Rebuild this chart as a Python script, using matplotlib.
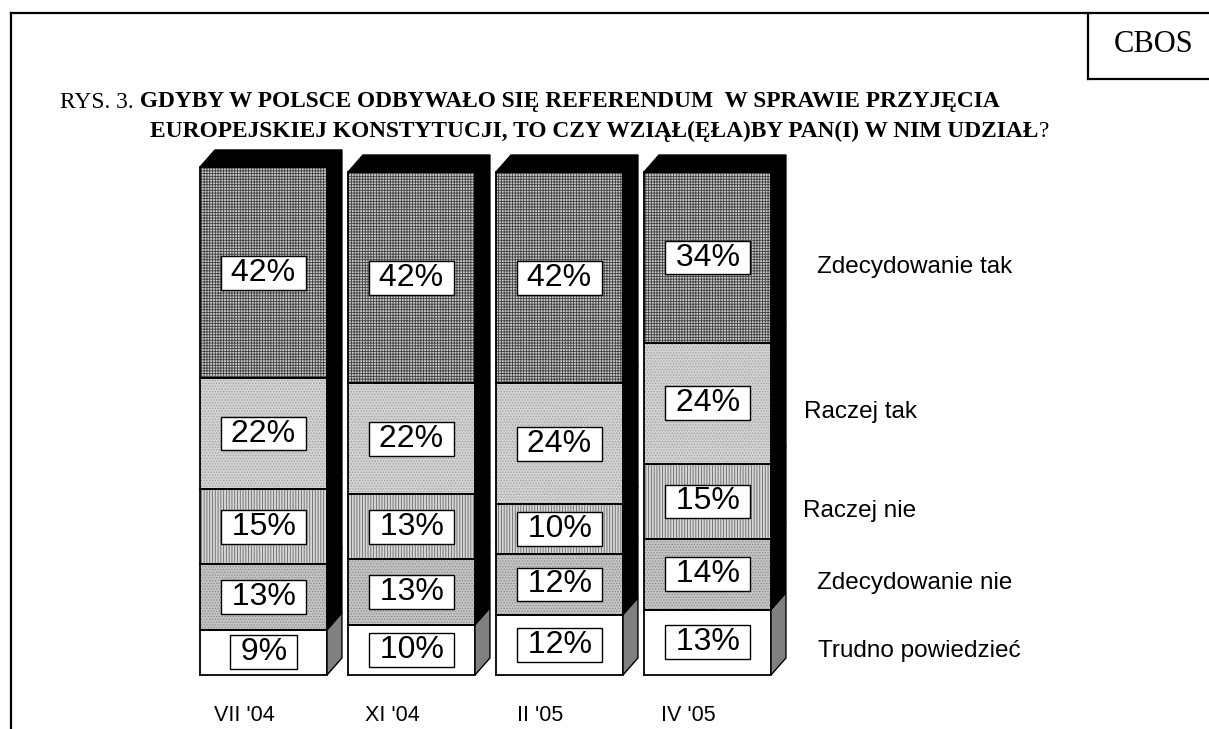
import numpy as np
import matplotlib
matplotlib.use("Agg")
import matplotlib.pyplot as plt
from matplotlib.patches import Polygon
from matplotlib.lines import Line2D

# data
periods = ["VII '04", "XI '04", "II '05", "IV '05"]
answers = ["Zdecydowanie tak", "Raczej tak", "Raczej nie", "Zdecydowanie nie", "Trudno powiedzieć"]
zdecydowanie_tak = [42, 42, 42, 34]
raczej_tak = [22, 22, 24, 24]
raczej_nie = [15, 13, 10, 15]
zdecydowanie_nie = [13, 13, 12, 14]
trudno_powiedziec = [9, 10, 12, 13]

# stacked from the bottom up
stack = [trudno_powiedziec, zdecydowanie_nie, raczej_nie, raczej_tak, zdecydowanie_tak]
stack_names = answers[::-1]

# looks: face colour, hatch, hatch colour
styles = {
    "Zdecydowanie tak": ("#c8c8c8", "++++++", "#404040"),
    "Raczej tak": ("#d2d2d2", "......", "#a0a0a0"),
    "Raczej nie": ("#d6d6d6", "||||||", "#686868"),
    "Zdecydowanie nie": ("#c4c4c4", "......", "#8a8a8a"),
    "Trudno powiedzieć": ("white", "", "white"),
}

plt.rcParams["hatch.linewidth"] = 0.6

W, H = 1209, 729
fig = plt.figure(figsize=(W / 100, H / 100), dpi=100)
ax = fig.add_axes([189.5 / W, 54 / H, 592 / W, 503 / H])
ax.set_xlim(-0.5, 3.5)
ax.set_ylim(0, 100)
ax.axis("off")

x = np.arange(len(periods))
width = 0.858
dx, dy = 0.101, 3.38

bottom = np.zeros(len(periods))
for name, vals in zip(stack_names, stack):
    vals = np.array(vals, dtype=float)
    fc, hatch, hc = styles[name]
    ax.bar(x, vals, width, bottom=bottom, color=fc, hatch=hatch,
           edgecolor=hc, linewidth=0, zorder=2, clip_on=False)
    ax.bar(x, vals, width, bottom=bottom, fill=False,
           edgecolor="black", linewidth=1.3, zorder=3, clip_on=False)
    # side faces
    side = "#808080" if name == "Trudno powiedzieć" else "black"
    for xi, b, v in zip(x, bottom, vals):
        xr = xi + width / 2
        ax.add_patch(Polygon([(xr, b), (xr + dx, b + dy), (xr + dx, b + v + dy), (xr, b + v)],
                             closed=True, facecolor=side, edgecolor="black",
                             linewidth=1.0, zorder=3, clip_on=False))
    # value labels
    for xi, b, v in zip(x, bottom, vals):
        ax.text(xi, b + v / 2, " %d%% " % v, ha="center", va="center",
                fontsize=23, family="Liberation Sans", zorder=5,
                bbox=dict(boxstyle="square,pad=0.06", fc="white", ec="black", lw=1.0))
    bottom = bottom + vals

# top faces
for xi, top in zip(x, bottom):
    xl, xr = xi - width / 2, xi + width / 2
    ax.add_patch(Polygon([(xl, top), (xl + dx, top + dy), (xr + dx, top + dy), (xr, top)],
                         closed=True, facecolor="black", edgecolor="black",
                         linewidth=1.0, zorder=3, clip_on=False))

# answer labels on the right, next to the last column
last_col = np.array([s[-1] for s in stack], dtype=float)
centers = np.cumsum(last_col) - last_col / 2
right_x = {"Zdecydowanie tak": 3.74, "Raczej tak": 3.65, "Raczej nie": 3.645,
           "Zdecydowanie nie": 3.74, "Trudno powiedzieć": 3.745}
for name, c in zip(stack_names, centers):
    ax.text(right_x[name], c - 1.8, name, ha="left", va="center",
            fontsize=17.5, family="Liberation Sans", clip_on=False)

# period labels
for xi, p in zip(x, periods):
    ax.text(xi - 0.13, -8.0, p, ha="center", va="center",
            fontsize=15.5, family="Liberation Sans", clip_on=False)

# frame and CBOS box
fig.add_artist(Line2D([11 / W, 1], [1 - 13 / H, 1 - 13 / H], color="black", lw=1.6))
fig.add_artist(Line2D([11 / W, 11 / W], [0, 1 - 13 / H], color="black", lw=1.6))
fig.add_artist(Line2D([1088 / W, 1088 / W], [1 - 13 / H, 1 - 79 / H], color="black", lw=1.6))
fig.add_artist(Line2D([1088 / W, 1], [1 - 79 / H, 1 - 79 / H], color="black", lw=1.6))
fig.text(1154 / W, 1 - 44 / H, "CBOS", ha="center", va="center",
         fontsize=22, family="Liberation Serif")

# title, mixed weight
tsize = 16.8
t1 = fig.text(60 / W, 1 - 102 / H, "RYS. 3.", ha="left", va="center",
              fontsize=tsize, family="Liberation Serif")
ax.annotate(" GDYBY W POLSCE ODBYWAŁO SIĘ REFERENDUM  W SPRAWIE PRZYJĘCIA",
            xy=(1, 0), xycoords=t1, ha="left", va="bottom", fontsize=tsize,
            family="Liberation Serif", weight="bold", annotation_clip=False)
t2 = fig.text(150 / W, 1 - 131 / H, "EUROPEJSKIEJ KONSTYTUCJI, TO CZY WZIĄŁ(ĘŁA)BY PAN(I) W NIM UDZIAŁ",
              ha="left", va="center", fontsize=tsize, family="Liberation Serif", weight="bold")
ax.annotate("?", xy=(1, 0), xycoords=t2, ha="left", va="bottom", fontsize=tsize,
            family="Liberation Serif", annotation_clip=False)

fig.savefig("out.png", dpi=100)
